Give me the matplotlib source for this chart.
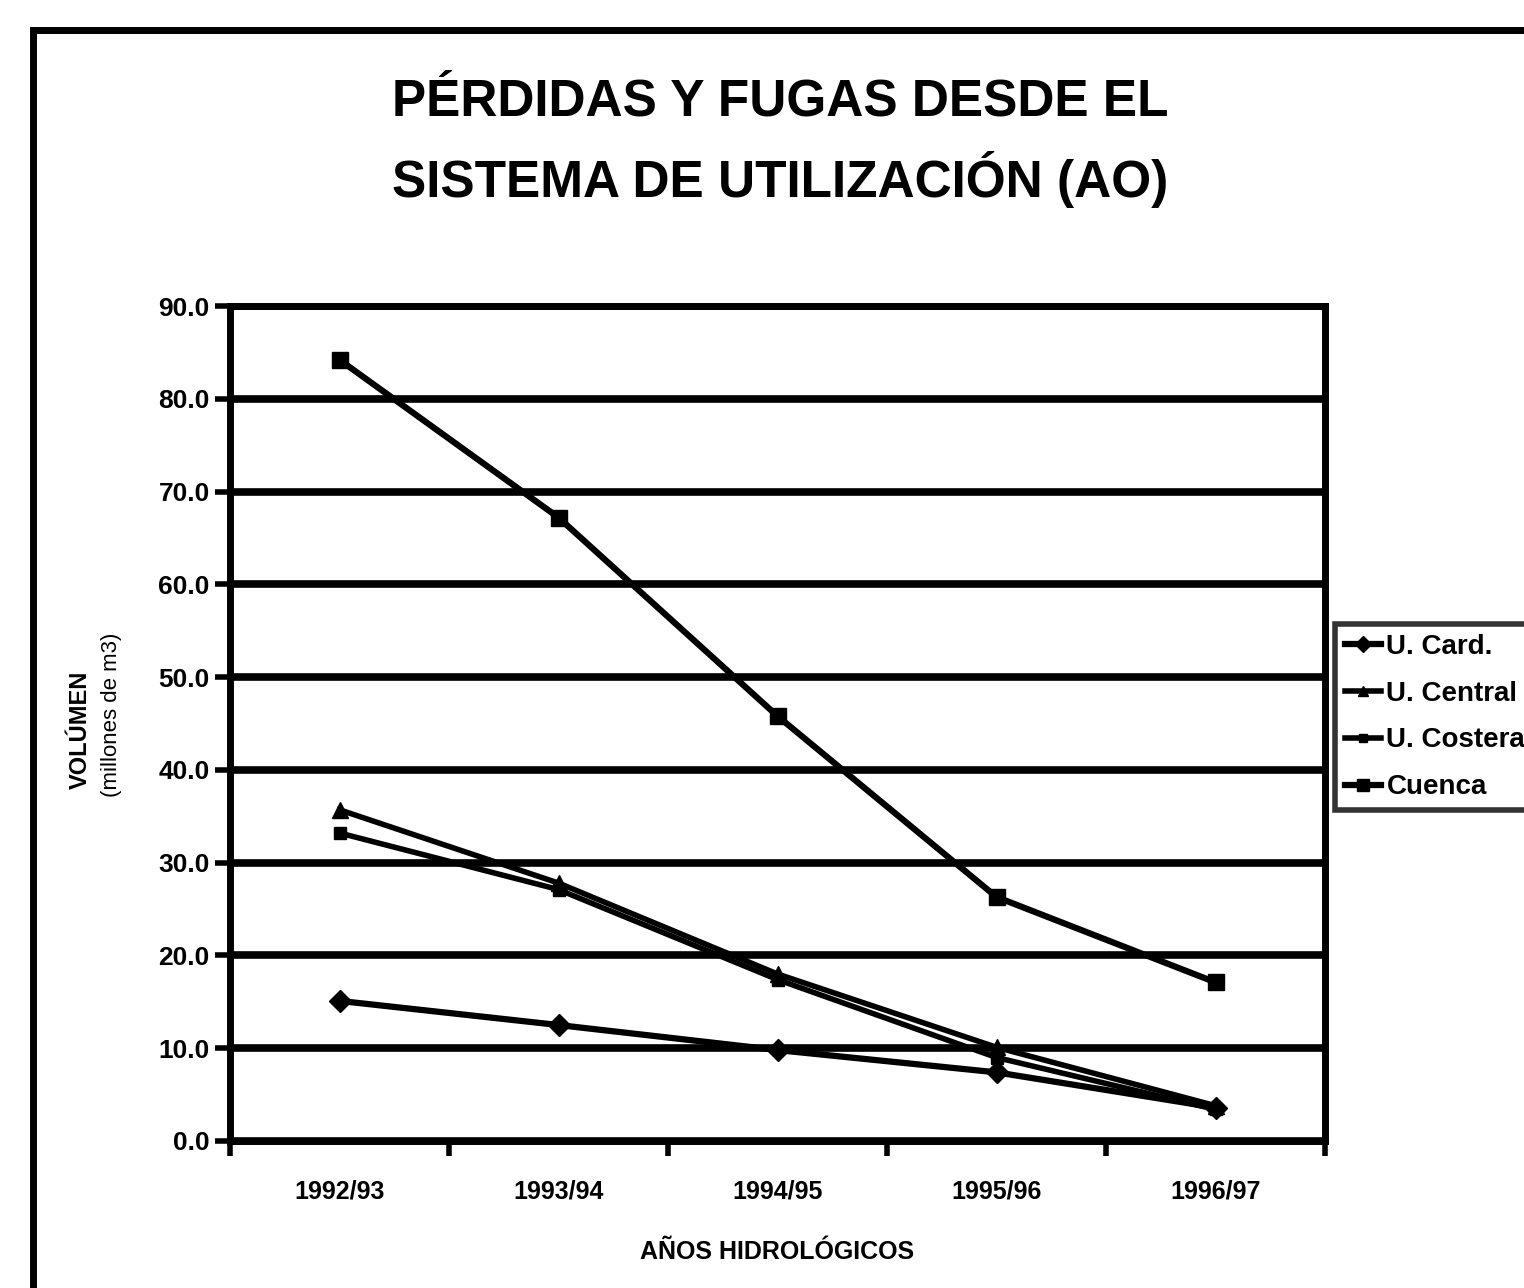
import matplotlib.pyplot as plt
from matplotlib.patches import Rectangle

plt.rcParams['font.family'] = ['Liberation Sans', 'DejaVu Sans']

years = ['1992/93', '1993/94', '1994/95', '1995/96', '1996/97']
card = [15.1, 12.5, 9.8, 7.4, 3.6]
central = [35.7, 27.8, 18.0, 10.1, 3.8]
costera = [33.2, 27.1, 17.4, 9.0, 3.4]
cuenca = [84.2, 67.2, 45.8, 26.3, 17.1]
series_names = ['U. Card.', 'U. Central', 'U. Costera', 'Cuenca']

fig = plt.figure(figsize=(15.24, 12.88), dpi=100)

# outer frame of the scanned sheet (cut at right/bottom)
fig.patches.append(Rectangle((33 / 1524, -0.05), 1.2, 1.05 - 30 / 1288,
                             transform=fig.transFigure, fill=False,
                             edgecolor='black', linewidth=5, zorder=0))

ax = fig.add_axes([230 / 1524, 1 - 1141 / 1288, 1095 / 1524, 835 / 1288])

x = range(len(years))
ax.plot(x, card, color='black', lw=4.5, marker='D', ms=11, label=series_names[0], zorder=3)
ax.plot(x, central, color='black', lw=4, marker='^', ms=11, label=series_names[1], zorder=3)
ax.plot(x, costera, color='black', lw=4, marker='s', ms=9, label=series_names[2], zorder=3)
ax.plot(x, cuenca, color='black', lw=4.5, marker='s', ms=12, label=series_names[3], zorder=3)

ax.set_ylim(0, 90)
ax.set_xlim(-0.5, len(years) - 0.5)
ax.set_yticks(range(0, 91, 10))
ax.set_yticklabels(['%.1f' % v for v in range(0, 91, 10)], fontsize=19, fontweight='bold')
ax.yaxis.grid(True, color='black', linewidth=5.5)
ax.set_axisbelow(True)

ax.set_xticks([i - 0.5 for i in range(len(years) + 1)])
ax.set_xticklabels([])
ax.set_xticks(list(x), minor=True)
ax.set_xticklabels(years, minor=True, fontsize=18, fontweight='bold')
ax.tick_params(axis='x', which='minor', length=0, pad=28)
ax.tick_params(axis='both', which='major', length=11, width=4, direction='out')
for s in ax.spines.values():
    s.set_linewidth(5)

ax.set_xlabel('AÑOS HIDROLÓGICOS', fontsize=18, fontweight='bold', labelpad=26)

fig.text(80 / 1524, 1 - 730 / 1288, 'VOLÚMEN', rotation=90, ha='center', va='center',
         fontsize=17, fontweight='bold')
fig.text(112 / 1524, 1 - 715 / 1288, '(millones de m3)', rotation=90, ha='center', va='center',
         fontsize=16)

fig.text(0.512, 1 - 102 / 1288, 'PÉRDIDAS Y FUGAS DESDE EL', ha='center', va='center',
         fontsize=37, fontweight='bold')
fig.text(0.512, 1 - 180 / 1288, 'SISTEMA DE UTILIZACIÓN (AO)', ha='center', va='center',
         fontsize=37, fontweight='bold')

leg = fig.legend(loc='upper left', bbox_to_anchor=(1335 / 1524, 1 - 624 / 1288),
                 prop={'size': 20, 'weight': 'bold'}, frameon=True, fancybox=False,
                 handlelength=1.3, handletextpad=0.2, borderpad=0.35, labelspacing=0.75,
                 markerscale=0.7, borderaxespad=0)
leg.get_frame().set_edgecolor('black')
leg.get_frame().set_linewidth(4)

fig.savefig('out.png', dpi=100)
